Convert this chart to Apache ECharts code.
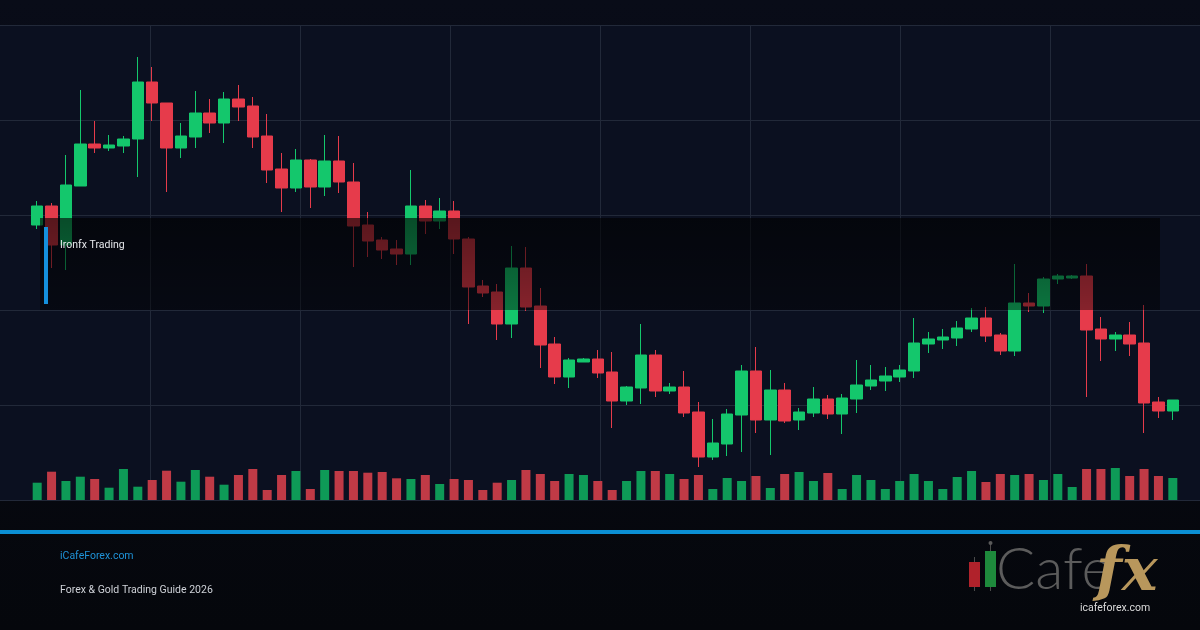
<!DOCTYPE html>
<html>
<head>
<meta charset="utf-8">
<title>Ironfx Trading</title>
<script src="https://cdn.jsdelivr.net/npm/echarts@6/dist/echarts.min.js"></script>
<style>
  html, body { margin: 0; padding: 0; background: #070a13; }
  #chart { width: 1200px; height: 630px; }
</style>
</head>
<body>
<div id="chart"></div>
<script>
// daily candles (price) + volume
const opens = [2355.0,2358.8,2351.0,2362.8,2371.2,2370.4,2370.8,2372.2,2383.6,2379.4,
  2370.4,2372.6,2377.4,2375.4,2380.2,2378.8,2372.8,2366.2,2362.4,2368.0,
  2362.6,2367.8,2363.6,2355.0,2352.0,2350.2,2349.2,2358.8,2355.8,2357.8,
  2352.2,2342.8,2341.6,2335.2,2346.4,2338.8,2331.2,2324.6,2327.6,2328.2,
  2325.6,2319.8,2322.4,2329.0,2321.8,2322.6,2317.6,2308.6,2311.2,2317.0,
  2325.8,2316.0,2322.0,2316.0,2317.4,2320.2,2317.2,2320.2,2322.8,2323.8,
  2324.6,2325.8,2331.2,2332.0,2332.4,2334.2,2336.4,2333.0,2329.8,2339.4,
  2338.8,2344.2,2344.4,2344.8,2334.2,2332.2,2333.0,2331.4,2319.6,2317.8];
const closes = [2358.8,2351.0,2363.0,2371.2,2370.4,2371.0,2372.2,2383.6,2379.4,2370.4,
  2372.8,2377.4,2375.4,2380.2,2378.6,2372.6,2366.0,2362.4,2368.0,2362.6,
  2367.8,2363.6,2354.8,2351.8,2350.0,2349.2,2358.8,2355.8,2357.8,2352.2,
  2342.6,2341.4,2335.2,2346.4,2338.6,2331.0,2324.6,2328.0,2328.2,2325.4,
  2319.8,2322.6,2329.0,2321.8,2322.6,2317.4,2308.6,2311.4,2317.2,2325.8,
  2316.0,2322.0,2315.8,2317.6,2320.2,2317.2,2320.4,2323.0,2324.0,2324.8,
  2326.0,2331.4,2332.2,2332.6,2334.4,2336.4,2332.8,2329.8,2339.4,2338.8,
  2344.2,2344.8,2344.8,2334.0,2332.2,2333.0,2331.2,2319.4,2317.8,2320.0];
const highs = [2359.8,2359.4,2369.0,2382.0,2375.8,2373.0,2372.8,2388.6,2386.6,2379.4,
  2375.4,2381.8,2380.2,2381.6,2383.0,2380.6,2377.2,2369.4,2370.2,2368.2,
  2373.0,2372.8,2367.4,2357.6,2352.6,2352.0,2366.0,2360.0,2360.4,2359.8,
  2352.6,2344.0,2343.2,2350.8,2350.6,2342.4,2332.6,2328.4,2328.4,2330.0,
  2329.6,2322.8,2335.2,2330.0,2323.4,2325.8,2319.6,2316.2,2318.2,2327.0,
  2330.6,2326.0,2323.4,2318.4,2322.6,2321.0,2321.2,2328.0,2327.0,2326.6,
  2327.0,2336.4,2333.6,2334.2,2335.8,2338.4,2338.6,2333.4,2347.2,2341.4,
  2344.6,2345.2,2345.0,2347.2,2336.6,2333.6,2335.6,2339.0,2320.6,2320.0];
const lows = [2354.2,2346.4,2346.0,2362.8,2369.4,2369.8,2369.4,2364.6,2375.8,2361.6,
  2368.4,2370.4,2373.4,2371.4,2375.8,2370.4,2363.4,2357.6,2361.6,2358.4,
  2360.8,2361.4,2346.6,2348.6,2348.2,2347.0,2347.0,2353.2,2354.2,2349.2,
  2335.2,2340.6,2332.0,2332.4,2337.8,2326.4,2323.2,2322.4,2327.6,2324.4,
  2314.4,2319.0,2319.2,2320.6,2321.2,2316.6,2306.6,2308.0,2308.8,2309.6,
  2313.4,2309.0,2315.4,2314.0,2316.6,2316.2,2313.2,2317.4,2322.0,2321.8,
  2323.6,2324.4,2329.4,2330.2,2330.8,2333.6,2331.6,2329.0,2328.8,2337.6,
  2337.4,2343.2,2344.2,2320.6,2327.8,2329.8,2328.8,2313.4,2316.4,2316.0];
const volumes = [1730,2830,1900,2330,2100,1230,3100,1330,2000,2930,
  1830,3000,2330,1530,2500,3100,1000,2500,2900,1100,
  3000,2900,2900,2730,2800,2170,2100,2500,1600,2100,
  2000,1000,1730,2000,3000,2600,1900,2600,2500,1900,
  1000,1900,2900,2900,2600,2100,2500,1100,2200,1900,
  2400,1200,2600,2800,1900,2700,1100,2500,2000,1100,
  1900,2600,1900,1100,2300,2900,1800,2600,2500,2600,
  2000,2600,1300,3100,3100,3200,2400,3100,2400,2200];

// trading days (labels are not shown)
const dates = [];
(function () {
  let d = new Date(Date.UTC(2025, 8, 1));
  while (dates.length < opens.length) {
    const wd = d.getUTCDay();
    if (wd !== 0 && wd !== 6) dates.push(d.toISOString().slice(0, 10));
    d.setUTCDate(d.getUTCDate() + 1);
  }
})();

const UP = "#14c76c";
const DOWN = "#e63b4b";
const VOL_UP = "#0e9a57";
const VOL_DOWN = "#c03a46";

const candleData = opens.map((o, i) => [o, closes[i], lows[i], highs[i]]);
const volumeData = volumes.map((v, i) => ({
  value: v,
  itemStyle: { color: closes[i] >= opens[i] ? VOL_UP : VOL_DOWN },
}));

const chart = echarts.init(document.getElementById("chart"));

const hidden = {
  axisLine: { show: false },
  axisTick: { show: false },
  axisLabel: { show: false },
  splitLine: { show: false },
};

const option = {
  animation: false,
  backgroundColor: {
    type: "linear", x: 0, y: 0, x2: 0, y2: 1,
    colorStops: [
      { offset: 0, color: "#090c18" },
      { offset: 1, color: "#05070c" },
    ],
  },
  grid: [
    // background grid lines
    { left: 0, right: 0, top: 25, bottom: 130, show: true, backgroundColor: "#0b1020", borderWidth: 0 },
    // candles
    { left: 30, right: 20, top: 25, bottom: 130 },
    // volume
    { left: 30, right: 20, top: 450, bottom: 130 },
  ],
  xAxis: [
    {
      gridIndex: 0, type: "value", min: 0, max: 8, interval: 1,
      axisLine: { show: false }, axisTick: { show: false }, axisLabel: { show: false },
      splitLine: { show: true, showMinLine: false, showMaxLine: false, lineStyle: { color: "#222939", width: 1 } },
    },
    Object.assign({ gridIndex: 1, type: "category", data: dates, boundaryGap: true }, hidden),
    Object.assign({ gridIndex: 2, type: "category", data: dates, boundaryGap: true }, hidden),
  ],
  yAxis: [
    {
      gridIndex: 0, type: "value", min: 0, max: 5, interval: 1,
      axisLine: { show: false }, axisTick: { show: false }, axisLabel: { show: false },
      splitLine: { show: true, lineStyle: { color: "#222939", width: 1 } },
    },
    Object.assign({ gridIndex: 1, type: "value", min: 2300, max: 2395, scale: true }, hidden),
    Object.assign({ gridIndex: 2, type: "value", min: 0, max: 5000 }, hidden),
  ],
  series: [
    {
      type: "candlestick",
      xAxisIndex: 1,
      yAxisIndex: 1,
      barWidth: 12,
      data: candleData,
      itemStyle: {
        color: UP,
        color0: DOWN,
        borderColor: UP,
        borderColor0: DOWN,
        borderWidth: 1,
      },
    },
    {
      type: "bar",
      xAxisIndex: 2,
      yAxisIndex: 2,
      barWidth: 9,
      data: volumeData,
    },
  ],
  graphic: [
    // shaded label band
    {
      type: "rect", z: 50,
      shape: { x: 40, y: 218, width: 1120, height: 92 },
      style: {
        fill: {
          type: "linear", x: 0, y: 0, x2: 0, y2: 1,
          colorStops: [
            { offset: 0, color: "rgba(0,0,0,0.62)" },
            { offset: 1, color: "rgba(0,0,0,0.42)" },
          ],
        },
      },
    },
    { type: "rect", z: 51, shape: { x: 44, y: 227, width: 4, height: 77 }, style: { fill: "#1590dc" } },
    {
      type: "text", z: 51, x: 60, y: 245,
      style: { text: "Ironfx Trading", fill: "#e6e8ec", font: "10.5px Roboto", textVerticalAlign: "middle" },
    },
    // footer
    { type: "rect", z: 20, shape: { x: 0, y: 530, width: 1200, height: 4 }, style: { fill: "#0b8fd4" } },
    {
      type: "text", z: 20, x: 60, y: 556,
      style: { text: "iCafeForex.com", fill: "#1f93d8", font: "10.5px Roboto", textVerticalAlign: "middle" },
    },
    {
      type: "text", z: 20, x: 60, y: 590,
      style: { text: "Forex & Gold Trading Guide 2026", fill: "#cfd2d8", font: "10.5px Roboto", textVerticalAlign: "middle" },
    },
    // logo
    { type: "line", z: 20, shape: { x1: 974.5, y1: 557, x2: 974.5, y2: 591 }, style: { stroke: "#4a4a4a", lineWidth: 1 } },
    { type: "rect", z: 21, shape: { x: 969, y: 562, width: 11, height: 25 }, style: { fill: "#b0222b" } },
    { type: "line", z: 20, shape: { x1: 990.5, y1: 543, x2: 990.5, y2: 591 }, style: { stroke: "#4a4a4a", lineWidth: 1 } },
    { type: "circle", z: 20, shape: { cx: 990.5, cy: 543, r: 2 }, style: { fill: "#5a5a5a" } },
    { type: "rect", z: 21, shape: { x: 985, y: 551, width: 11, height: 36 }, style: { fill: "#1e8a3c" } },
    {
      type: "text", z: 20, x: 996, y: 570,
      style: { text: "Cafe", fill: "#5c5c5c", font: "300 58px Lato", textVerticalAlign: "middle" },
    },
    {
      type: "text", z: 22, x: 1096, y: 574,
      style: { text: "fx", fill: "#b8975c", font: "italic bold 60px 'DejaVu Serif'", textVerticalAlign: "middle" },
    },
    {
      type: "text", z: 23, x: 1080, y: 608,
      style: { text: "icafeforex.com", fill: "#dcdcdc", font: "10.5px Roboto", textVerticalAlign: "middle" },
    },
  ],
};

chart.setOption(option);
</script>
</body>
</html>
